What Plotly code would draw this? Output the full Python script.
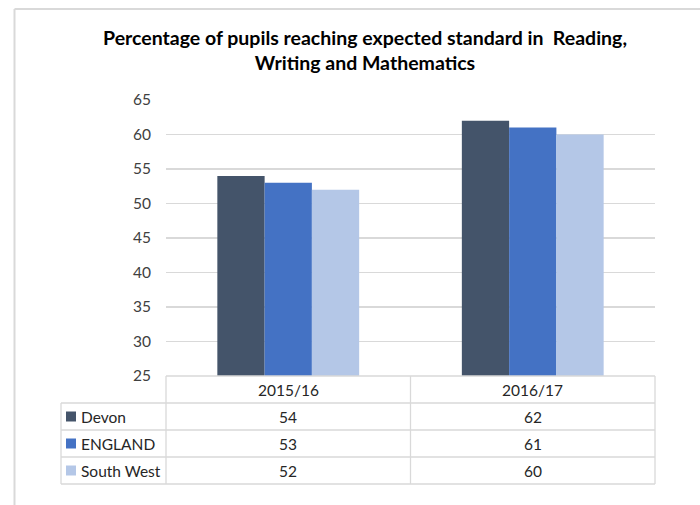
import plotly.graph_objects as go

# ---- data ----
categories = ["2015/16", "2016/17"]
series_names = ["Devon", "ENGLAND", "South West"]
devon = [54, 62]
england = [53, 61]
south_west = [52, 60]
series_values = [devon, england, south_west]
colors = ["#44546A", "#4472C4", "#B4C7E7"]
title_text = "Percentage of pupils reaching expected standard in  Reading,<br>Writing and Mathematics"
y_ticks = [25, 30, 35, 40, 45, 50, 55, 60, 65]

# ---- layout geometry (pixels) ----
W, H = 700, 505
PL, PR, PT, PB = 166, 655, 100, 376   # plot area
FONT = "Lato, 'Open Sans', sans-serif"
GRID = "#D9D9D9"
TXT = "#262626"
SMALL = 15.5


def px_x(x):
    return (x - PL) / (PR - PL)


def px_y(y):
    return (PB - y) / (PB - PT)


fig = go.Figure()
for name, vals, col in zip(series_names, series_values, colors):
    fig.add_trace(go.Bar(x=categories, y=vals, name=name, marker_color=col,
                         marker_line_width=0, showlegend=False, hoverinfo="skip"))

shapes = []
annotations = []

# outer chart frame (left and top edges visible)
shapes.append(dict(type="line", xref="paper", yref="paper", x0=px_x(14.5), x1=px_x(W + 5),
                   y0=px_y(9), y1=px_y(9), line=dict(color=GRID, width=2)))
shapes.append(dict(type="line", xref="paper", yref="paper", x0=px_x(14.5), x1=px_x(14.5),
                   y0=px_y(9), y1=px_y(H + 5), line=dict(color=GRID, width=2)))

# data table
row_y = [376, 403, 430, 457, 484]
tab_left = 61
mid = (PL + PR) / 2
lw = 1.3
shapes.append(dict(type="line", xref="paper", yref="paper", x0=px_x(PL), x1=px_x(PR),
                   y0=px_y(row_y[0]), y1=px_y(row_y[0]), line=dict(color=GRID, width=lw)))
for ry in row_y[1:]:
    shapes.append(dict(type="line", xref="paper", yref="paper", x0=px_x(tab_left), x1=px_x(PR),
                       y0=px_y(ry), y1=px_y(ry), line=dict(color=GRID, width=lw)))
for vx in [PL, mid, PR]:
    shapes.append(dict(type="line", xref="paper", yref="paper", x0=px_x(vx), x1=px_x(vx),
                       y0=px_y(row_y[0]), y1=px_y(row_y[-1]), line=dict(color=GRID, width=lw)))
shapes.append(dict(type="line", xref="paper", yref="paper", x0=px_x(tab_left), x1=px_x(tab_left),
                   y0=px_y(row_y[1]), y1=px_y(row_y[-1]), line=dict(color=GRID, width=lw)))

# header row: category labels
for cat in categories:
    annotations.append(dict(x=cat, xref="x", y=px_y((row_y[0] + row_y[1]) / 2), yref="paper",
                            text=cat, showarrow=False, xanchor="center", yanchor="middle",
                            font=dict(family=FONT, size=SMALL, color=TXT)))

# series rows
for i, (name, vals, col) in enumerate(zip(series_names, series_values, colors)):
    yc = (row_y[i + 1] + row_y[i + 2]) / 2
    shapes.append(dict(type="rect", xref="paper", yref="paper", x0=px_x(66), x1=px_x(76),
                       y0=px_y(yc - 5), y1=px_y(yc + 5), fillcolor=col, line=dict(width=0)))
    annotations.append(dict(x=px_x(79), xref="paper", y=px_y(yc), yref="paper", text=name,
                            showarrow=False, xanchor="left", yanchor="middle",
                            font=dict(family=FONT, size=SMALL, color=TXT)))
    for cat, v in zip(categories, vals):
        annotations.append(dict(x=cat, xref="x", y=px_y(yc), yref="paper", text=str(v),
                                showarrow=False, xanchor="center", yanchor="middle",
                                font=dict(family=FONT, size=SMALL, color=TXT)))

fig.update_layout(
    width=W, height=H,
    margin=dict(l=PL, r=W - PR, t=PT, b=H - PB, pad=0),
    paper_bgcolor="white", plot_bgcolor="white",
    barmode="group", bargap=0.42, bargroupgap=0,
    title=dict(text=title_text, x=365 / W, xanchor="center", y=1 - 45 / H, yanchor="middle",
               font=dict(family=FONT, size=19.5, color="#000000", weight="bold")),
    xaxis=dict(showticklabels=False, showgrid=False, zeroline=False, showline=False, ticks=""),
    yaxis=dict(range=[25, 65], tickvals=y_ticks, showgrid=True, gridcolor=GRID, gridwidth=1.3,
               zeroline=False, showline=False, ticks="", ticklabelstandoff=14,
               tickfont=dict(family=FONT, size=SMALL, color="#404040")),
    shapes=shapes, annotations=annotations,
)

fig.write_html("out.html", config={"displayModeBar": False, "staticPlot": True},
               post_script="document.body.style.margin='0';document.body.style.overflow='hidden';")
